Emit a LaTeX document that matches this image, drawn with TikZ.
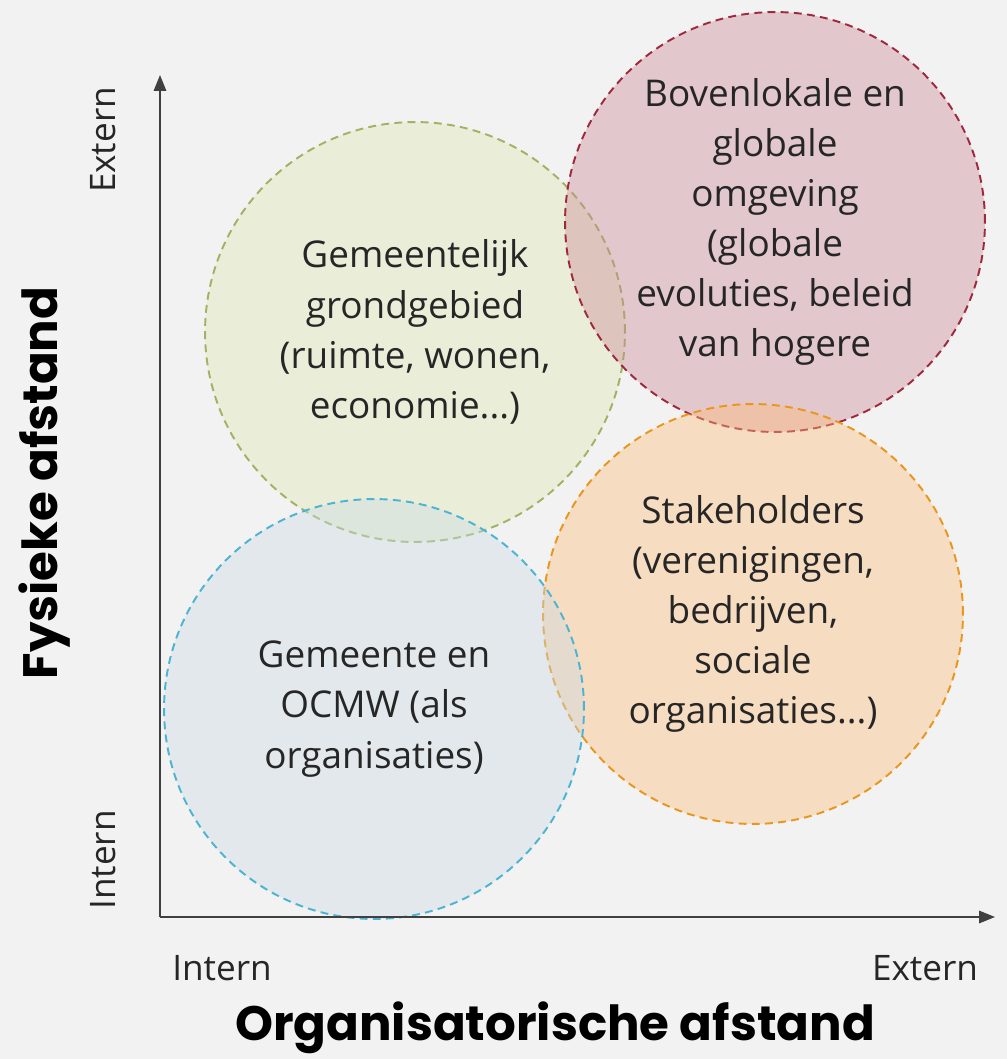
\documentclass[tikz,border=0pt]{standalone}
\usepackage{fontspec}
\setmainfont{Open Sans}
\newfontfamily\headfont{Poppins}
\usetikzlibrary{arrows.meta}

\definecolor{bgGray}{RGB}{242,242,242}
\definecolor{txtGray}{RGB}{38,38,38}
\definecolor{axisGray}{RGB}{64,64,64}
\definecolor{fillGreen}{RGB}{222,232,179}
\definecolor{lineGreen}{RGB}{160,178,100}
\definecolor{fillRed}{RGB}{202,137,149}
\definecolor{lineRed}{RGB}{160,40,60}
\definecolor{fillOrange}{RGB}{254,187,117}
\definecolor{lineOrange}{RGB}{232,150,30}
\definecolor{fillBlue}{RGB}{202,219,227}
\definecolor{lineBlue}{RGB}{75,180,210}

\tikzset{
  zone/.style={circle, minimum size=8.4cm, inner sep=0pt, align=center,
    dash pattern=on 4.5pt off 3pt, line width=1.1pt, fill opacity=0.4,
    text opacity=1, draw opacity=1,
    text=txtGray, font=\fontsize{21}{28.5}\selectfont},
  axis/.style={draw=axisGray, line width=1.1pt, -{Triangle[length=9pt, width=7pt]}},
  axislabel/.style={text=txtGray, font=\fontsize{20}{24}\selectfont},
  axistitle/.style={text=black, font=\headfont\bfseries\fontsize{27.5}{30}\selectfont}
}

\begin{document}
\begin{tikzpicture}[x=0.02cm, y=-0.02cm]
  \fill[bgGray] (0,0) rectangle (1007,1059);
  \useasboundingbox (0,0) rectangle (1007,1059);

  % zones
  \node[zone, fill=fillGreen, draw=lineGreen] (grondgebied) at (415,332)
    {Gemeentelijk\\grondgebied\\(ruimte, wonen,\\economie...)};
  \node[zone, fill=fillRed, draw=lineRed] (bovenlokaal) at (775,222)
    {Bovenlokale en\\globale\\omgeving\\(globale\\evoluties, beleid\\van hogere};
  \node[zone, fill=fillOrange, draw=lineOrange] (stakeholders) at (753,614)
    {Stakeholders\\(verenigingen,\\bedrijven,\\sociale\\organisaties...)};
  \node[zone, fill=fillBlue, draw=lineBlue] (gemeente) at (374,709)
    {Gemeente en\\OCMW (als\\organisaties)};

  % axes
  \coordinate (origin) at (160,917);
  \coordinate (ytip) at (160,75);
  \coordinate (xtip) at (995,917);
  \draw[axis] (origin) -- (ytip);
  \draw[axis] (origin) -- (xtip);

  \node[axislabel, rotate=90] (yExtern) at (103,140) {Extern};
  \node[axislabel, rotate=90] (yIntern) at (103,860) {Intern};
  \node[axislabel] (xIntern) at (222,968) {Intern};
  \node[axislabel] (xExtern) at (925,968) {Extern};

  \node[axistitle] (xTitle) at (555,1028) {Organisatorische afstand};
  \node[axistitle, rotate=90] (yTitle) at (45,483) {Fysieke afstand};
\end{tikzpicture}
\end{document}
